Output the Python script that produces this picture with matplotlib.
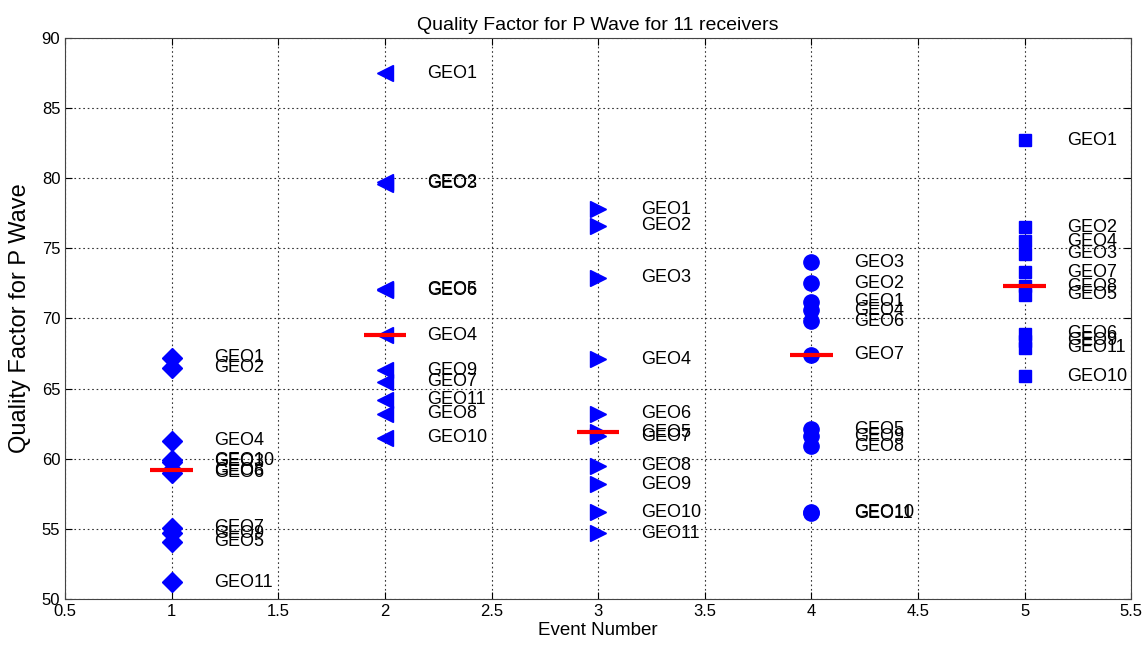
import numpy as np
import matplotlib.pyplot as plt

plt.rcParams['font.family'] = ['Liberation Sans', 'DejaVu Sans']

receivers = ["GEO%d" % i for i in range(1, 12)]
events = [1, 2, 3, 4, 5]

# Q factor per receiver (GEO1..GEO11) for each event
q_event1 = [67.2, 66.5, 59.8, 61.3, 54.1, 59.0, 55.1, 59.2, 54.7, 59.9, 51.2]
q_event2 = [87.5, 79.7, 79.6, 68.8, 72.1, 72.0, 65.5, 63.2, 66.3, 61.5, 64.2]
q_event3 = [77.8, 76.6, 72.9, 67.1, 61.9, 63.2, 61.6, 59.5, 58.2, 56.2, 54.7]
q_event4 = [71.2, 72.5, 74.0, 70.6, 62.1, 69.8, 67.4, 60.9, 61.6, 56.2, 56.1]
q_event5 = [82.7, 76.5, 74.6, 75.5, 71.7, 68.9, 73.3, 72.3, 68.4, 65.9, 67.9]

q_all = [q_event1, q_event2, q_event3, q_event4, q_event5]
markers = ['D', '<', '>', 'o', 's']
msizes = [10, 12, 12, 11, 9]

xticks = [0.5, 1, 1.5, 2, 2.5, 3, 3.5, 4, 4.5, 5, 5.5]
xticklabels = ["0.5", "1", "1.5", "2", "2.5", "3", "3.5", "4", "4.5", "5", "5.5"]
yticks = [50, 55, 60, 65, 70, 75, 80, 85, 90]

fig = plt.figure(figsize=(11.43, 6.54), dpi=100)
ax = fig.add_axes((0.057, 0.084, 0.9326, 0.858))

for ev, vals, m, ms in zip(events, q_all, markers, msizes):
    ax.plot([ev] * len(vals), vals, linestyle='none', marker=m, markersize=ms,
            color='#0000ff', markeredgecolor='#0000ff', zorder=3)
    for name, v in zip(receivers, vals):
        ax.text(ev + 0.2, v, name, fontsize=13, va='center', ha='left')
    # median marker for the event
    med = np.median(vals)
    ax.hlines(med, ev - 0.1, ev + 0.1, color='#ff0000', linewidth=3, zorder=4)

ax.set_xlim(0.5, 5.5)
ax.set_ylim(50, 90)
ax.set_xticks(xticks)
ax.set_xticklabels(xticklabels)
ax.set_yticks(yticks)
ax.tick_params(direction='in', labelsize=12, length=5, top=True, right=True)
ax.grid(True, linestyle=(0, (1.5, 2.5)), color='#333333', linewidth=0.8)
for sp in ax.spines.values():
    sp.set_color('#444444')

ax.set_title("Quality Factor for P Wave for 11 receivers", fontsize=14)
ax.set_xlabel("Event Number", fontsize=13.5, labelpad=2)
ax.set_ylabel("Quality Factor for P Wave", fontsize=17, labelpad=8)

fig.savefig("out.png", dpi=100)
